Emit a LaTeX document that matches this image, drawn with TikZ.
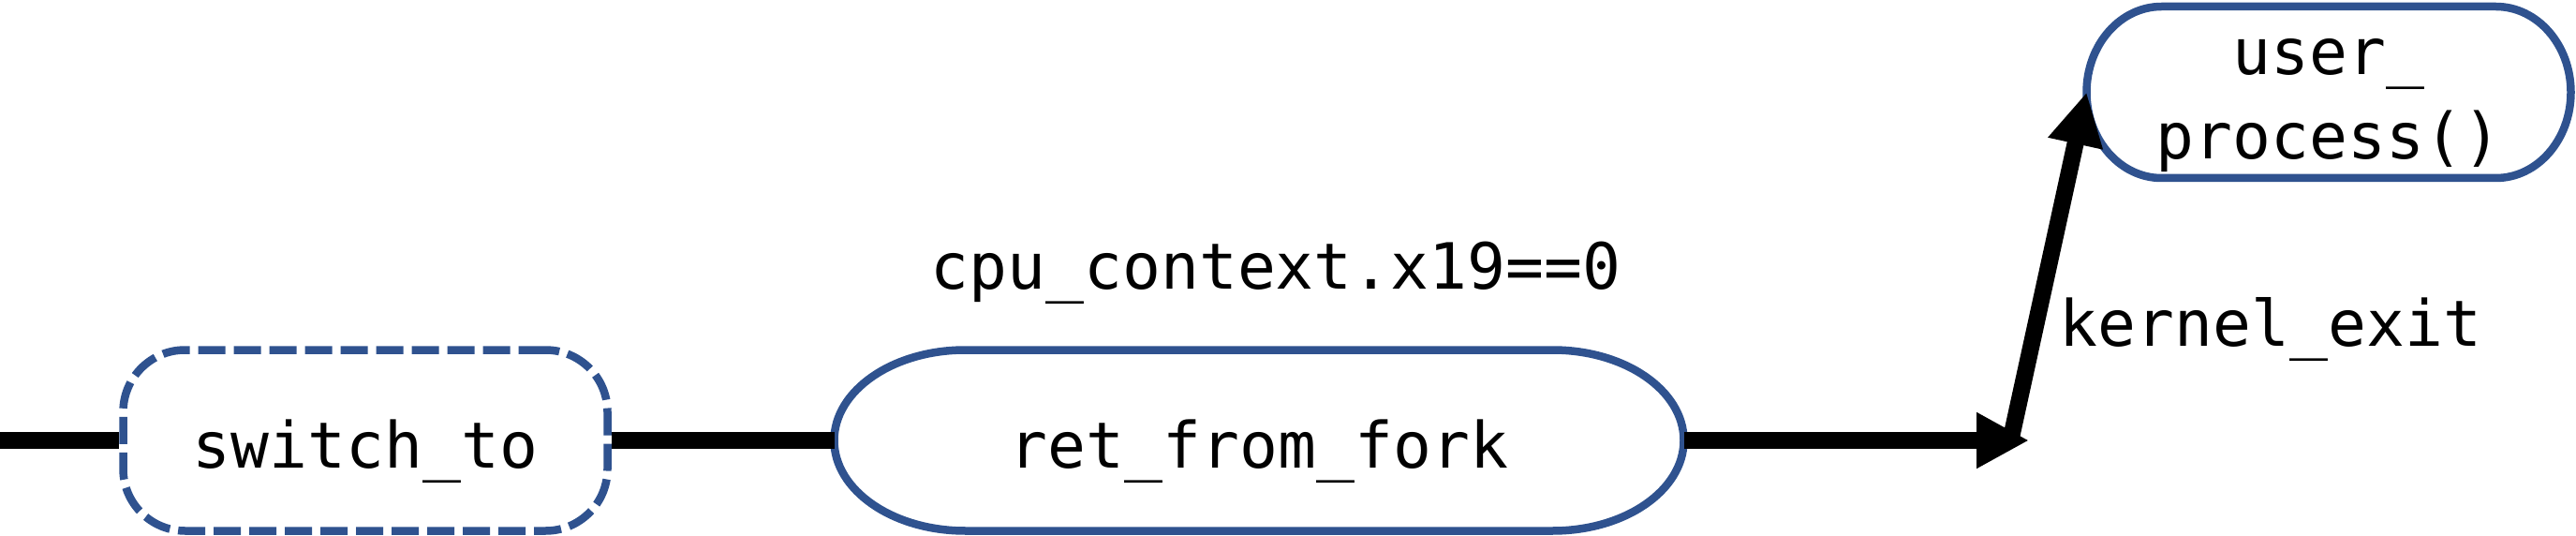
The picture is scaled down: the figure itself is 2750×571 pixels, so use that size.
\documentclass[tikz,border=0pt]{standalone}
\usepackage{fontspec}
\newfontfamily\diagmono{DejaVu Sans Mono}
\usetikzlibrary{arrows.meta}
\definecolor{nodeblue}{RGB}{47,82,143}
\tikzset{
  lbl/.style={font=\diagmono\fontsize{68}{90}\selectfont, inner sep=0pt},
  box/.style={lbl, draw=nodeblue, line width=8.5pt, minimum width=#1, minimum height=193pt, text height=58pt, text depth=0pt},
  dashbox/.style={box=517pt, rounded corners=66pt, dash pattern=on 29pt off 9pt},
  ovalbox/.style={box=#1, draw=none, outer sep=0pt},
  flow/.style={line width=18pt, black},
  flowarrow/.style={flow, -{Triangle[length=56pt,width=56pt]}},
  ovalline/.style={draw=nodeblue, line width=8.5pt, line join=round}
}
\begin{document}
\begin{tikzpicture}[x=1pt,y=1pt]
\useasboundingbox (0,0) rectangle (2750,571);
\fill[white] (0,0) rectangle (2750,571);
% nodes
\node[dashbox] (sw) at (390,101) {switch\_to};
\node[ovalbox=907pt] (rff) at (1344,101) {ret\_from\_fork};
\draw[ovalline] ([xshift=140pt]rff.north west) -- ([xshift=-140pt]rff.north east)
  arc[start angle=90, end angle=-90, x radius=140pt, y radius=96.5pt]
  -- ([xshift=140pt]rff.south west)
  arc[start angle=270, end angle=90, x radius=140pt, y radius=96.5pt] -- cycle;
\node[lbl, outer sep=0pt, minimum width=517pt, minimum height=183pt, text height=143pt, text depth=0pt] (up) at (2486,472.5)
  {\begin{tabular}[b]{@{}c@{}}user\_\\process()\end{tabular}};
\draw[ovalline] ([xshift=80pt]up.north west) -- ([xshift=-80pt]up.north east)
  arc[start angle=90, end angle=-90, x radius=80pt, y radius=91.5pt]
  -- ([xshift=80pt]up.south west)
  arc[start angle=270, end angle=90, x radius=80pt, y radius=91.5pt] -- cycle;
\node[lbl, anchor=base] (cond) at (1362,262) {cpu\_context.x19==0};
\node[lbl, anchor=base] (kexit) at (2424,201) {kernel\_exit};
% connectors
\coordinate (in) at (0,101);
\coordinate (tip) at (2166,101);
\coordinate (kstart) at (2147,104);
\draw[flow] (in) -- (sw);
\draw[flow] (sw) -- (rff);
\draw[flowarrow] (rff) -- (tip);
\draw[flowarrow] (kstart) -- (up.west);
\end{tikzpicture}
\end{document}
